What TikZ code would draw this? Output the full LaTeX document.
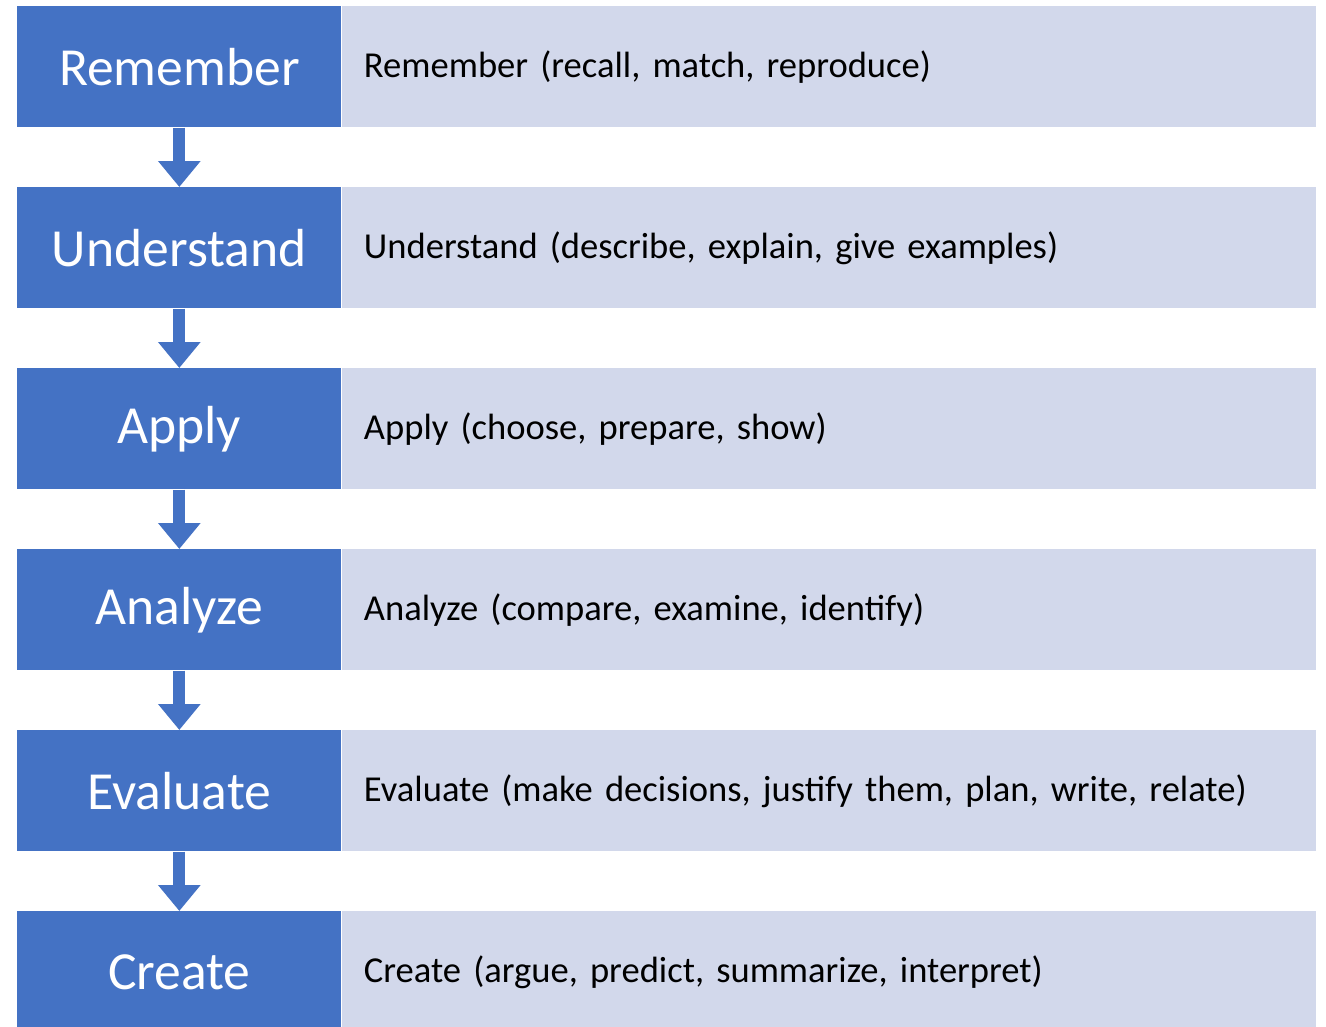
\documentclass[tikz,border=0pt]{standalone}
\usepackage{fontspec}
\setmainfont{Carlito}
\usepackage{tikz}
\usetikzlibrary{arrows.meta,positioning}
\definecolor{levelblue}{HTML}{4472C4}
\definecolor{levellight}{HTML}{D2D8EB}

\begin{document}
\begin{tikzpicture}[x=0.02cm,y=-0.02cm,
		level/.style={fill=levelblue,text=white,minimum width=6.48cm,minimum height=2.42cm,inner sep=0pt,font=\fontsize{30.5}{34}\selectfont},
		verbs/.style={fill=levellight,minimum height=2.42cm,text width=18.6cm,inner xsep=0.44cm,inner ysep=0pt,align=left,font=\fontsize{20.8}{24}\selectfont},
		down/.style={levelblue,line width=0.24cm,-{Triangle[width=0.82cm,length=0.52cm]}}]
		\useasboundingbox (0,0) rectangle (1326,1027);
		\clip (0,0) rectangle (1326,1027);
		\foreach \i/\name/\words in {1/Remember/{Remember (recall, match, reproduce)},
			2/Understand/{Understand (describe, explain, give examples)},
			3/Apply/{Apply (choose, prepare, show)},
			4/Analyze/{Analyze (compare, examine, identify)},
			5/Evaluate/{Evaluate (make decisions, justify them, plan, write, relate)},
			6/Create/{Create (argue, predict, summarize, interpret)}}{
			\node[level,anchor=north west] (l\i) at (17,{6+181*(\i-1)}) {\name};
			\node[verbs,anchor=north west] (v\i) at (l\i.north east) {\words};
		}
		\foreach \i [evaluate=\i as \j using int(\i+1)] in {1,...,5}
			\draw[down] (l\i.south) -- (l\j.north);
	\end{tikzpicture}
\end{document}
